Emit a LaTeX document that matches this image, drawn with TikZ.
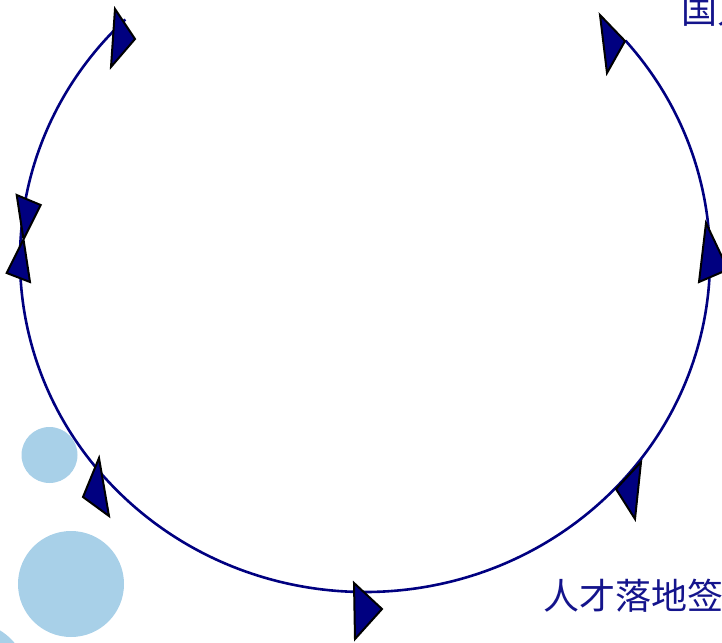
\documentclass[tikz,border=0pt]{standalone}
\usepackage{fontspec}
\newfontfamily\cjk{Noto Sans CJK SC}
\definecolor{navy}{RGB}{0,0,128}
\definecolor{textnavy}{RGB}{20,20,140}
\definecolor{bubble}{RGB}{168,208,232}
\begin{document}
\begin{tikzpicture}[x=1pt,y=-1pt,
  arrowtri/.style={fill=navy,draw=black,line width=2pt,line join=miter},
  ring/.style={draw=navy,line width=2.6pt},
  bubblefill/.style={fill=bubble,draw=none},
  label/.style={font=\cjk\fontsize{36}{36}\selectfont,text=textnavy,inner sep=0pt,anchor=base west}]
\useasboundingbox (0,0) rectangle (722,642);
\clip (0,0) rectangle (722,642);
% background bubbles
\fill[bubblefill] (49.5,455) circle (28);
\fill[bubblefill] (71,584) circle (53);
\fill[bubblefill] (-30,680) circle (58);
% ring (elliptical arc)
\draw[ring] (365,259) ++(226:345 and 333) arc[start angle=226,end angle=-41,x radius=345,y radius=333];
% arrowheads
\draw[arrowtri] (115,9) -- (135,39) -- (111,67) -- cycle;
\draw[arrowtri] (600,15) -- (625,41) -- (607,73) -- cycle;
\draw[arrowtri] (16.7,195) -- (40.7,205) -- (6.7,273) -- (30,282) -- cycle;
\draw[arrowtri] (706,223) -- (728,269.5) -- (699,282) -- cycle;
\draw[arrowtri] (99,458) -- (83,497) -- (109,516) -- cycle;
\draw[arrowtri] (641,462) -- (616,489) -- (635,519) -- cycle;
\draw[arrowtri] (354,583) -- (382,609) -- (355,639) -- cycle;
% texts
\node[label] (top) at (681,23.5) {国人};
\node[label] (bottom) at (543,609) {人才落地签};
\end{tikzpicture}
\end{document}
